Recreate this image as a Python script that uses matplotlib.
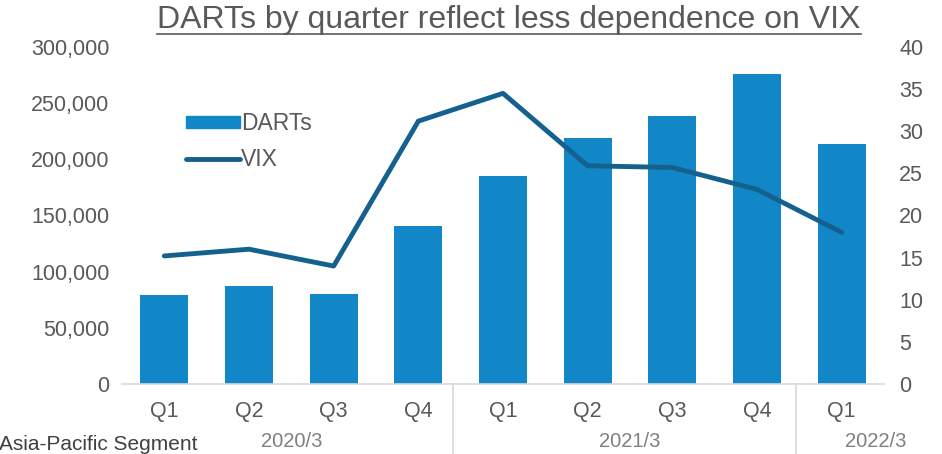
import matplotlib
matplotlib.use("Agg")
import matplotlib.pyplot as plt
from matplotlib.ticker import FuncFormatter, MultipleLocator
from matplotlib.lines import Line2D
from matplotlib.patches import Patch

plt.rcParams['font.family'] = ['Liberation Sans', 'DejaVu Sans']

quarters = ["Q1", "Q2", "Q3", "Q4", "Q1", "Q2", "Q3", "Q4", "Q1"]
years = ["2020/3", "2021/3", "2022/3"]
darts = [79000, 87000, 80000, 141000, 185000, 219000, 239000, 276000, 214000]
vix = [15.2, 16.0, 14.0, 31.2, 34.5, 25.9, 25.7, 23.1, 18.0]

bar_color = "#1287c8"
line_color = "#14618f"
text_color = "#595959"
grid_color = "#d9d9d9"

W, H = 942, 454
fig = plt.figure(figsize=(W / 100, H / 100), dpi=100)
ax = fig.add_axes([122 / W, (H - 384) / H, (884 - 122) / W, (384 - 47) / H])
x = list(range(len(quarters)))
ax.bar(x, darts, width=0.57, color=bar_color, zorder=2)
ax.set_xlim(-0.5, len(quarters) - 0.5)
ax.set_ylim(0, 300000)
ax.yaxis.set_major_locator(MultipleLocator(50000))
ax.yaxis.set_major_formatter(FuncFormatter(lambda v, p: f"{int(v):,}"))
for s in ["top", "right", "left"]:
    ax.spines[s].set_visible(False)
ax.spines["bottom"].set_color(grid_color)
ax.spines["bottom"].set_linewidth(1.2)
ax.tick_params(axis="y", length=0, labelsize=15.5, labelcolor=text_color, pad=9)
ax.set_xticks(x)
ax.set_xticklabels(quarters)
ax.tick_params(axis="x", length=0, labelsize=15.5, labelcolor=text_color, pad=12)

ax2 = ax.twinx()
ax2.plot(x, vix, color=line_color, linewidth=3.5, solid_capstyle="round", zorder=3)
ax2.set_ylim(0, 40)
ax2.yaxis.set_major_locator(MultipleLocator(5))
for s in ["top", "right", "left", "bottom"]:
    ax2.spines[s].set_visible(False)
ax2.tick_params(axis="y", length=0, labelsize=15.5, labelcolor=text_color, pad=11)

# group separators
for xs in [3.41, 7.46]:
    ax.plot([xs, xs], [0, -0.22], transform=ax.get_xaxis_transform(), color=grid_color,
            linewidth=1.2, clip_on=False)

# year labels
year_pos = [1.5, 5.5, 8.4]
for xp, yl in zip(year_pos, years):
    ax.text(xp, -0.172, yl, transform=ax.get_xaxis_transform(), ha="center", va="center",
            fontsize=14.5, color="#808080")

# legend
handles = [Patch(color=bar_color), Line2D([0], [0], color=line_color, linewidth=3.5, solid_capstyle="round")]
leg = ax.legend(handles, ["DARTs", "VIX"], loc="upper left", bbox_to_anchor=(0.057, 0.868),
                frameon=False, fontsize=16.5, labelcolor=text_color, handlelength=2.35,
                handleheight=0.45, handletextpad=0.05, labelspacing=0.57)

# title
t = fig.text(509 / W, 1 - 20 / H, "DARTs by quarter reflect less dependence on VIX",
             ha="center", va="center", fontsize=23, color=text_color)
fig.canvas.draw()
bb = t.get_window_extent()
fig.add_artist(Line2D([bb.x0 / W, bb.x1 / W], [(bb.y0 + 1) / H, (bb.y0 + 1) / H],
                      color=text_color, linewidth=1.2))

fig.text(-1 / W, 0.5 / H, "Asia-Pacific Segment", ha="left", va="bottom",
         fontsize=15, color="#404040")

fig.savefig("out.png", dpi=100)
